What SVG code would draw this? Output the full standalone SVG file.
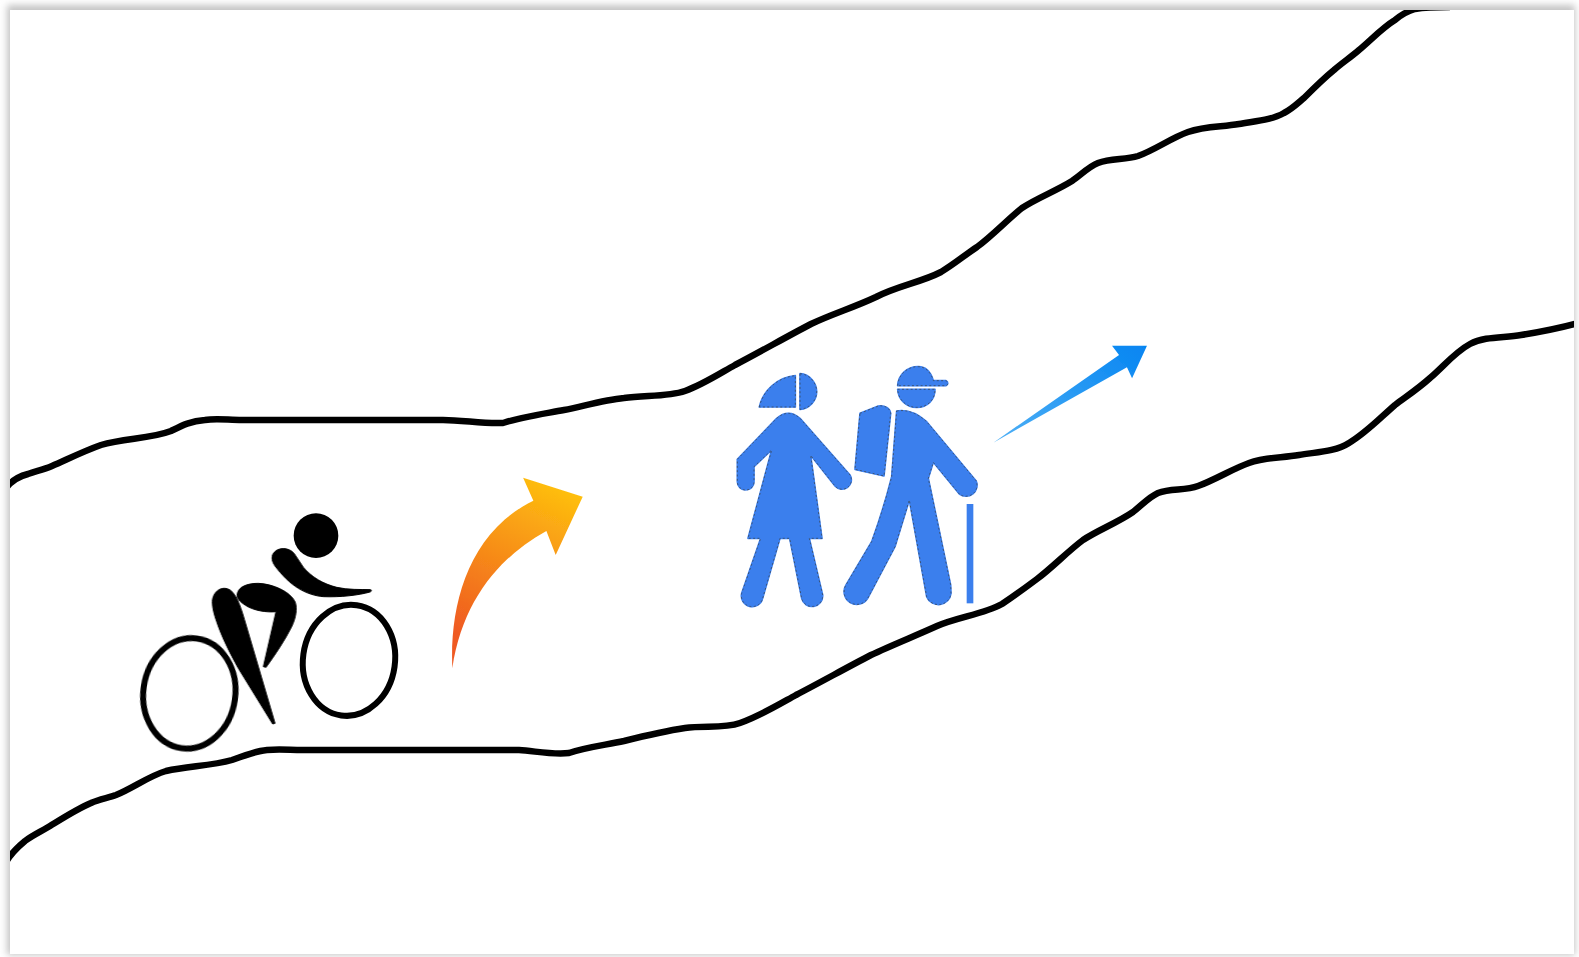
<svg xmlns="http://www.w3.org/2000/svg" width="1579" height="957" viewBox="0 0 1579 957">
<style>
.road{fill:none;stroke:#000;stroke-width:6.5;stroke-linejoin:round;stroke-linecap:butt}
.wheel{fill:none;stroke:#000;stroke-width:18}
.body{fill:#000;stroke:#000;stroke-width:3;stroke-linejoin:round}
.hiker{fill:#3b7fed;stroke:#3b7fed;stroke-width:5;stroke-linejoin:round}
.edge{fill:none;stroke:#3a4a60;stroke-width:2.5;stroke-dasharray:6 7;stroke-linejoin:round}
.plain{fill:#3b7fed}
.blur{filter:url(#raster)}
</style>
<defs>
<filter id="soft" x="-5%" y="-5%" width="110%" height="110%"><feGaussianBlur stdDeviation="3.5"/></filter>
<filter id="raster" x="-5%" y="-5%" width="110%" height="110%"><feGaussianBlur stdDeviation="0.7"/></filter>
<clipPath id="page"><rect x="10" y="10" width="1564" height="944"/></clipPath>
<linearGradient id="orange" gradientUnits="userSpaceOnUse" x1="48" y1="900" x2="330" y2="480"><stop offset="0" stop-color="#ef5a22"/><stop offset="1" stop-color="#ffc30d"/></linearGradient>
<linearGradient id="blue" gradientUnits="userSpaceOnUse" x1="1210" y1="338" x2="1540" y2="47"><stop offset="0" stop-color="#4fb0f5"/><stop offset="1" stop-color="#0585f2"/></linearGradient>
<path id="w1" d="M118 171C128 125 170 82 226 77L226 171Z"/>
<path id="w2" d="M240 71C270 73 290 100 290 125C290 152 268 176 240 178Z"/>
<path id="w3" d="M170 205Q205 175 240 205L390 375A28 28 0 0 1 345 408L272 316L306 565L268 565L308 735A32 32 0 0 1 245 745L209 565L180 565L128 745A32 32 0 0 1 65 730L122 565L84 565L155 300L102 350L102 395A25 25 0 0 1 52 395L52 328Z"/>
<path id="m1" d="M533 107C535 75 560 50 595 50C615 50 632 65 640 92L678 92C685 95 685 105 678 107Z"/>
<path id="m2" d="M533 118L645 118C645 150 622 172 590 172C560 172 535 150 533 118Z"/>
<path id="m3" d="M420 190L475 168C495 165 510 175 512 190L492 378L405 358Z"/>
<path id="m4" d="M530 183Q575 175 620 215L768 392A33 33 0 0 1 718 432L640 337L625 385L692 705L693 730A38 38 0 0 1 620 740L568 450L525 590L443 745A38 38 0 0 1 378 705L455 575Q490 480 515 380Z"/>
</defs>
<rect width="1579" height="957" fill="#fff"/>
<rect x="7" y="5" width="1568" height="950" fill="#c4c4c4" filter="url(#soft)"/>
<rect x="10" y="10" width="1564" height="944" fill="#fff"/>
<g id="connectors" clip-path="url(#page)">
<g class="blur">
<path id="road-top" class="road" d="M6 488C12 480 20 476 28 474C36 471 43 470 52 466C68 459 84 451 101 445C124 438 150 439 171 431C181 426 190 421 205 420C216 418 228 420 242 420L443 420C463 420 483 424 503 423C522 417 543 414 564 410C584 406 604 400 624 398C645 395 668 397 685 391C702 385 719 374 735 365C760 352 786 337 811 324C832 314 855 307 876 297C897 286 922 282 941 272C953 265 965 255 977 247C992 236 1007 220 1022 208C1037 198 1056 191 1072 181C1081 175 1088 167 1098 163C1111 158 1125 160 1138 156C1155 150 1171 138 1188 132C1205 126 1222 127 1239 124C1256 121 1272 120 1284 113C1292 109 1298 103 1304 98C1314 88 1323 79 1334 70C1342 63 1351 57 1359 50C1371 40 1382 28 1395 20C1401 15 1408 11 1415 9C1427 7 1438 7 1450 7"/>
<path id="road-bottom" class="road" d="M6 862C12 852 19 846 25 841C33 835 42 831 50 826C63 818 77 809 91 803C99 799 108 798 116 795C133 788 149 776 166 771C188 766 211 766 232 760C244 756 255 751 267 750C279 749 290 750 302 750L519 750C535 751 553 755 569 753C587 747 606 745 624 741C644 736 665 731 685 728C704 725 723 729 740 723C760 716 778 705 796 695C821 682 846 668 871 655C892 645 915 636 937 626C958 617 984 614 1002 604C1014 596 1025 588 1037 579C1053 567 1067 552 1083 540C1098 530 1117 523 1133 512C1142 505 1149 497 1158 493C1171 488 1185 491 1198 486C1215 480 1232 469 1249 463C1265 457 1282 458 1299 455C1316 452 1335 452 1349 443C1366 433 1380 418 1395 405C1407 396 1419 388 1430 378C1443 367 1455 352 1470 344C1485 336 1504 338 1521 335C1539 332 1556 329 1578 323"/>
</g>
</g>
<g id="cyclist" class="blur"><g transform="translate(120 490) scale(.33333)">
<circle cx="588" cy="137" r="67" fill="#000"/>
<ellipse class="wheel" cx="208" cy="610" rx="138" ry="166" transform="rotate(8 208 610)"/>
<ellipse class="wheel" cx="687" cy="511" rx="138" ry="167" transform="rotate(8 687 511)"/>
<path class="body" d="M460 190C472 172 505 170 522 190L550 232C575 262 610 282 650 292C685 300 720 298 752 299C756 301 754 304 750 306C715 316 660 322 610 320C585 318 560 310 535 295C510 280 485 255 465 228C456 215 453 202 460 190Z"/>
<path class="body" d="M277 335C278 305 305 285 330 300C352 315 365 360 378 405L465 700L458 702L355 535C330 490 305 440 290 395C283 375 277 355 277 335Z"/>
<path class="body" d="M352 310C358 288 385 280 415 280C460 282 510 305 525 335C533 355 527 385 515 410C495 450 465 495 438 532L430 530L468 365C440 368 400 362 375 345C360 335 348 325 352 310Z"/>
</g></g>
<g id="woman" class="blur"><g transform="translate(720 350) scale(.33333)">
<use href="#w1" class="hiker"/><use href="#w2" class="hiker"/><use href="#w3" class="hiker"/>
<use href="#w1" class="edge"/><use href="#w2" class="edge"/><use href="#w3" class="edge"/>
</g></g>
<g id="man" class="blur"><g transform="translate(720 350) scale(.33333)">
<use href="#m1" class="hiker"/><use href="#m2" class="hiker"/><use href="#m3" class="hiker"/><use href="#m4" class="hiker"/>
<use href="#m1" class="edge"/><use href="#m2" class="edge"/><use href="#m3" class="edge"/><use href="#m4" class="edge"/>
<rect class="plain" x="740" y="462" width="20" height="298"/>
</g></g>
<g id="arrows" class="blur"><g transform="translate(430 330) scale(.46556 .33333)">
<path id="arrow-orange" fill="url(#orange)" d="M48 1015C42 830 80 610 222 512L200 443L328 500L270 675L250 603C150 680 70 810 48 1015Z"/>
<path id="arrow-blue" fill="url(#blue)" d="M1210 338L1480 75L1465 47L1540 47L1508 145L1497 112Z"/>
</g></g>
</svg>
